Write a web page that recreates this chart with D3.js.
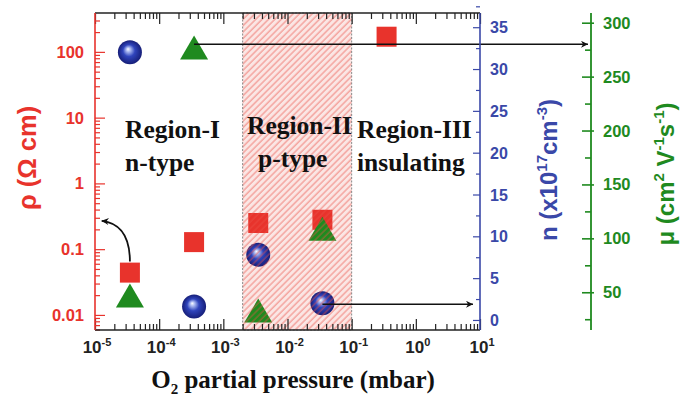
<!DOCTYPE html>
<html>
<head>
<meta charset="utf-8">
<script src="https://cdn.jsdelivr.net/npm/d3@7"></script>
<style>
  body { margin: 0; background: #fff; }
  svg { display: block; }
</style>
</head>
<body>
<svg width="682" height="401"></svg>
<script>
// data
const pressure = [3.5e-5, 3.5e-4, 3.5e-3, 3.5e-2, 3.5e-1];
const rho = [0.044, 0.128, 0.25, 0.28, 170];          // Ohm cm
const nPressure = [3.5e-5, 3.5e-4, 3.5e-3, 3.5e-2];
const carrier = [32, 1.6, 7.8, 2.0];                   // x1e17 cm^-3
const muPressure = [3.5e-5, 3.5e-4, 3.5e-3, 3.5e-2];
const mobility = [47, 277, 33, 109];                   // cm2/Vs
const pRegion = [2e-3, 1e-1];                          // p-type window

const xTicks = [-5, -4, -3, -2, -1, 0, 1];
const rhoTicks = [0.01, 0.1, 1, 10, 100];
const rhoLabels = ['0.01', '0.1', '1', '10', '100'];
const nTicks = [0, 5, 10, 15, 20, 25, 30, 35];
const muTicks = [50, 100, 150, 200, 250, 300];

const RED = '#e8332c', BLUE = '#3a48a8', GREEN = '#1f8a1f';

const svg = d3.select('svg');
const L = 95, R = 480, T = 13, B = 330, GX = 591;

const x = d3.scaleLog().domain([1e-5, 10]).range([L, R]);
const yRho = d3.scaleLog().domain([0.0059, 390]).range([B, T]);
const yN = d3.scaleLinear().domain([-1.2, 36.7]).range([B, T]);
const yMu = d3.scaleLinear().domain([15, 309]).range([B, T]);

const defs = svg.append('defs');
const grad = defs.append('radialGradient').attr('id', 'ball')
    .attr('cx', '50%').attr('cy', '50%').attr('r', '50%')
    .attr('fx', '42%').attr('fy', '36%');
grad.append('stop').attr('offset', '0%').attr('stop-color', '#ffffff');
grad.append('stop').attr('offset', '16%').attr('stop-color', '#b4c2f4');
grad.append('stop').attr('offset', '50%').attr('stop-color', '#2f44bc');
grad.append('stop').attr('offset', '100%').attr('stop-color', '#161e78');

const hatch = defs.append('pattern').attr('id', 'hatch')
    .attr('patternUnits', 'userSpaceOnUse').attr('width', 4.5).attr('height', 4.5)
    .attr('patternTransform', 'rotate(45)');
hatch.append('line').attr('x1', 1).attr('x2', 1).attr('y1', 0).attr('y2', 4.5)
    .attr('stroke', 'rgba(235,80,70,0.6)').attr('stroke-width', 1.1);

const arrow = defs.append('marker').attr('id', 'head')
    .attr('viewBox', '0 0 10 10').attr('refX', 10).attr('refY', 5)
    .attr('markerWidth', 10).attr('markerHeight', 7).attr('markerUnits', 'userSpaceOnUse')
    .attr('orient', 'auto');
arrow.append('path').attr('d', 'M0,0L10,5L0,10L3,5Z').attr('fill', '#111');

// pink backdrop of the p-type region
const rx = x(pRegion[0]), rw = x(pRegion[1]) - x(pRegion[0]);
svg.append('rect').attr('x', rx).attr('y', T).attr('width', rw).attr('height', B - T)
    .attr('fill', '#fbe6e4');

// markers
const g = svg.append('g');
g.selectAll('.sq').data(pressure).enter().append('rect')
    .attr('x', (d) => x(d) - 10).attr('y', (d, i) => yRho(rho[i]) - 10)
    .attr('width', 20).attr('height', 20).attr('fill', RED);

g.selectAll('.tri').data(muPressure).enter().append('path')
    .attr('d', (d, i) => {
        const cx = x(d), cy = yMu(mobility[i]);
        return `M${cx - 14},${cy + 12}L${cx + 14},${cy + 12}L${cx},${cy - 12}Z`;
    })
    .attr('fill', GREEN);

g.selectAll('.ball').data(nPressure).enter().append('circle')
    .attr('cx', (d) => x(d)).attr('cy', (d, i) => yN(carrier[i]))
    .attr('r', 12).attr('fill', 'url(#ball)');

// hatch lines drawn over the markers
svg.append('rect')
    .attr('x', rx).attr('y', T).attr('width', rw).attr('height', B - T)
    .attr('fill', 'url(#hatch)')
    .attr('stroke', '#888').attr('stroke-width', 1).attr('stroke-dasharray', '2,1.5');

// arrows
svg.append('line')
    .attr('x1', x(muPressure[1])).attr('x2', GX - 3)
    .attr('y1', yMu(280)).attr('y2', yMu(280))
    .attr('stroke', '#111').attr('stroke-width', 1.6).attr('marker-end', 'url(#head)');
svg.append('line')
    .attr('x1', x(nPressure[3])).attr('x2', R - 7)
    .attr('y1', yN(carrier[3]) + 1).attr('y2', yN(carrier[3]) + 1)
    .attr('stroke', '#111').attr('stroke-width', 1.6).attr('marker-end', 'url(#head)');
const sx = x(pressure[0]), sy = yRho(rho[0]) - 11;
const ex = x(1.27e-5), ey = yRho(0.27);
svg.append('path')
    .attr('d', `M${sx},${sy}C${sx},${sy - 26} ${sx - 10},${ey + 2} ${ex},${ey}`)
    .attr('fill', 'none').attr('stroke', '#111').attr('stroke-width', 1.8)
    .attr('marker-end', 'url(#head)');

// axes
function decade(e) { return Math.pow(10, e); }
const minorX = x.ticks().filter((d) => !xTicks.map(decade).some((v) => Math.abs(v - d) / v < 1e-6));

function styleAxis(sel, color) {
    sel.select('.domain').remove();
    sel.selectAll('line').attr('stroke', color).attr('stroke-width', 1.2);
}

[[B, d3.axisTop], [T, d3.axisBottom]].forEach(([yy, ax]) => {
    svg.append('g').attr('transform', `translate(0,${yy})`)
        .call(ax(x).tickValues(xTicks.map(decade)).tickSize(11).tickFormat(''))
        .call(styleAxis, '#222');
    svg.append('g').attr('transform', `translate(0,${yy})`)
        .call(ax(x).tickValues(minorX).tickSize(6).tickFormat(''))
        .call(styleAxis, '#222');
});

const minorRho = yRho.ticks().filter((d) => !rhoTicks.some((v) => Math.abs(v - d) / v < 1e-6));
svg.append('g').attr('transform', `translate(${L},0)`)
    .call(d3.axisRight(yRho).tickValues(rhoTicks).tickSize(10).tickFormat(''))
    .call(styleAxis, RED);
svg.append('g').attr('transform', `translate(${L},0)`)
    .call(d3.axisRight(yRho).tickValues(minorRho).tickSize(5).tickFormat(''))
    .call(styleAxis, RED);

svg.append('g').attr('transform', `translate(${R},0)`)
    .call(d3.axisLeft(yN).tickValues(nTicks).tickSize(7).tickFormat(''))
    .call(styleAxis, BLUE);
svg.append('g').attr('transform', `translate(${R},0)`)
    .call(d3.axisLeft(yN).tickValues(nTicks.map((d) => d + 2.5)).tickSize(4).tickFormat(''))
    .call(styleAxis, BLUE);

svg.append('g').attr('transform', `translate(${GX},0)`)
    .call(d3.axisLeft(yMu).tickValues(muTicks).tickSizeInner(9).tickSizeOuter(0).tickFormat(''))
    .call(styleAxis, GREEN)
    .selectAll('.tick line').attr('x2', -9).attr('x1', 3).attr('stroke-width', 1.6);
svg.append('g').attr('transform', `translate(${GX},0)`)
    .call(d3.axisLeft(yMu).tickValues(muTicks.map((d) => d - 25)).tickSize(6).tickFormat(''))
    .call(styleAxis, GREEN)
    .selectAll('.tick line').attr('stroke-width', 1.6);

// axis lines
svg.append('line').attr('x1', L).attr('x2', R).attr('y1', B).attr('y2', B).attr('stroke', '#222').attr('stroke-width', 1.6);
svg.append('line').attr('x1', L).attr('x2', R).attr('y1', T).attr('y2', T).attr('stroke', '#222').attr('stroke-width', 1.4);
svg.append('line').attr('x1', L).attr('x2', L).attr('y1', T).attr('y2', B).attr('stroke', RED).attr('stroke-width', 1.6);
svg.append('line').attr('x1', R).attr('x2', R).attr('y1', T).attr('y2', B).attr('stroke', BLUE).attr('stroke-width', 1.6);
svg.append('line').attr('x1', GX).attr('x2', GX).attr('y1', T).attr('y2', B).attr('stroke', GREEN).attr('stroke-width', 1.8);

// tick labels
const sans = 'Liberation Sans, Arial, sans-serif';
const serif = 'Liberation Serif, Times New Roman, serif';

svg.append('g').selectAll('text').data(xTicks).enter().append('text')
    .attr('x', (d) => x(decade(d)) + 2).attr('y', 353)
    .attr('text-anchor', 'middle').attr('font-family', sans).attr('font-weight', 'bold')
    .attr('font-size', 17).attr('fill', '#222')
    .each(function(d) {
        const t = d3.select(this);
        t.append('tspan').text('10');
        t.append('tspan').attr('dy', -7).attr('font-size', 11).text(d);
    });

svg.append('g').selectAll('text').data(rhoTicks).enter().append('text')
    .attr('x', 84).attr('y', (d) => yRho(d) + 6)
    .attr('text-anchor', 'end').attr('font-family', sans).attr('font-weight', 'bold')
    .attr('font-size', 16.5).attr('fill', RED)
    .text((d, i) => rhoLabels[i]);

svg.append('g').selectAll('text').data(nTicks).enter().append('text')
    .attr('x', 490).attr('y', (d) => yN(d) + 6)
    .attr('font-family', sans).attr('font-weight', 'bold')
    .attr('font-size', 16).attr('fill', BLUE)
    .text((d) => d);

svg.append('g').selectAll('text').data(muTicks).enter().append('text')
    .attr('x', 603).attr('y', (d) => yMu(d) + 6)
    .attr('font-family', sans).attr('font-weight', 'bold')
    .attr('font-size', 16.5).attr('fill', GREEN)
    .text((d) => d);

// axis titles
svg.append('text')
    .attr('transform', 'translate(36,158) rotate(-90)')
    .attr('text-anchor', 'middle').attr('font-family', sans).attr('font-weight', 'bold')
    .attr('font-size', 25.5).attr('fill', RED)
    .text('ρ (Ω cm)');

const nTitle = svg.append('text')
    .attr('transform', 'translate(557,170) rotate(-90)')
    .attr('text-anchor', 'middle').attr('font-family', sans).attr('font-weight', 'bold')
    .attr('font-size', 24).attr('fill', BLUE);
nTitle.append('tspan').text('n (x10');
nTitle.append('tspan').attr('dy', -10).attr('font-size', 15).text('17');
nTitle.append('tspan').attr('dy', 10).text('cm');
nTitle.append('tspan').attr('dy', -10).attr('font-size', 15).text('-3');
nTitle.append('tspan').attr('dy', 10).text(')');

const muTitle = svg.append('text')
    .attr('transform', 'translate(674,174) rotate(-90)')
    .attr('text-anchor', 'middle').attr('font-family', sans).attr('font-weight', 'bold')
    .attr('font-size', 24).attr('fill', GREEN);
muTitle.append('tspan').text('μ (cm');
muTitle.append('tspan').attr('dy', -10).attr('font-size', 15).text('2');
muTitle.append('tspan').attr('dy', 10).text(' V');
muTitle.append('tspan').attr('dy', -10).attr('font-size', 15).text('-1');
muTitle.append('tspan').attr('dy', 10).text('s');
muTitle.append('tspan').attr('dy', -10).attr('font-size', 15).text('-1');
muTitle.append('tspan').attr('dy', 10).text(')');

const xTitle = svg.append('text')
    .attr('x', 293).attr('y', 388).attr('text-anchor', 'middle')
    .attr('font-family', serif).attr('font-weight', 'bold').attr('font-size', 25).attr('fill', '#111');
xTitle.append('tspan').text('O');
xTitle.append('tspan').attr('dy', 6).attr('font-size', 15).text('2');
xTitle.append('tspan').attr('dy', -6).text(' partial pressure (mbar)');

// region labels
const regions = [
    { lines: ['Region-I', 'n-type'], x: 125, y: 138 },
    { lines: ['Region-II', 'p-type'], x: 247, y: 134 },
    { lines: ['Region-III', 'insulating'], x: 357, y: 138 }
];
regions.forEach((r, i) => {
    r.lines.forEach((s, j) => {
        svg.append('text')
            .attr('x', r.x + (i === 1 && j === 1 ? 11 : 0)).attr('y', r.y + j * 33)
            .attr('font-family', serif).attr('font-weight', 'bold')
            .attr('font-size', 25.5).attr('fill', '#111')
            .text(s);
    });
});
</script>
</body>
</html>
